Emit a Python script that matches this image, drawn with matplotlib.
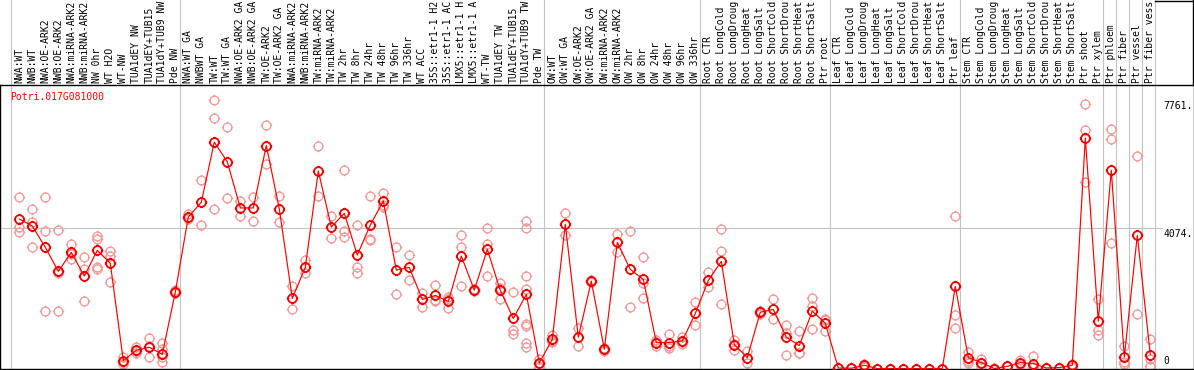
import matplotlib
matplotlib.use("Agg")
import numpy as np
import matplotlib.pyplot as plt
import matplotlib.transforms as mtransforms
from matplotlib.path import Path

gene = "Potri.017G081000"

labels = [
    "NWA:WT", "NWB:WT", "NWA:OE-ARK2", "NWB:OE-ARK2", "NWA:miRNA-ARK2",
    "NWB:miRNA-ARK2", "NW 0hr", "WT H2O", "WT-NW", "TUA1dEY NW",
    "TUA1dEY+TUB15", "TUA1dY+TUB9 NW", "Pde NW",
    "NWA:WT GA", "NWBWT GA", "TW:WT", "TW:WT GA", "NWA:OE-ARK2 GA",
    "NWB:OE-ARK2 GA", "TW:OE-ARK2", "TW:OE-ARK2 GA", "NWA:miRNA-ARK2",
    "NWB:miRNA-ARK2", "TW:miRNA-ARK2", "TW:miRNA-ARK2", "TW 2hr", "TW 8hr",
    "TW 24hr", "TW 48hr", "TW 96hr", "TW 336hr", "WT ACC", "35S::etr1-1 H2",
    "35S::etr1-1 AC", "LMX5::etr1-1 H", "LMX5::etr1-1 A", "WT-TW",
    "TUA1dEY TW", "TUA1dEY+TUB15", "TUA1dY+TUB9 TW", "Pde TW",
    "OW:WT", "OW:WT GA", "OW:OE-ARK2", "OW:OE-ARK2 GA", "OW:miRNA-ARK2",
    "OW:miRNA-ARK2", "OW 2hr", "OW 8hr", "OW 24hr", "OW 48hr", "OW 96hr",
    "OW 336hr",
    "Root CTR", "Root LongCold", "Root LongDroug", "Root LongHeat",
    "Root LongSalt", "Root ShortCold", "Root ShortDrou", "Root ShortHeat",
    "Root ShortSalt", "Ptr root",
    "Leaf CTR", "Leaf LongCold", "Leaf LongDroug", "Leaf LongHeat",
    "Leaf LongSalt", "Leaf ShortCold", "Leaf ShortDrou", "Leaf ShortHeat",
    "Leaf ShortSalt", "Ptr leaf",
    "Stem CTR", "Stem LongCold", "Stem LongDroug", "Stem LongHeat",
    "Stem LongSalt", "Stem ShortCold", "Stem ShortDrou", "Stem ShortHeat",
    "Stem ShortSalt", "Ptr shoot", "Ptr xylem",
    "Ptr phloem", "Ptr fiber", "Ptr vessel", "Ptr fiber vess",
]

means = [
    4326, 4123, 3506, 2811, 3361, 2675, 3419, 3043, 232, 530, 617, 414, 2211,
    4384, 4810, 6549, 5978, 4645, 4645, 6450, 4616, 2028, 2927, 5717, 4094,
    4491, 3283, 4152, 4848, 2848, 2927, 1999, 2115, 1941, 3254, 2269, 3448,
    2260, 1449, 2144, 162,
    849, 4173, 907, 2530, 559, 3651, 2869, 2579, 753, 753, 800, 1594,
    2550, 3101, 695, 319, 1631, 1710, 907, 666, 1660, 1313,
    17, 10, 96, 0, 0, 0, 0, 0, 0, 2376,
    319, 174, 0, 67, 174, 145, 17, 30, 96, 6665, 1371,
    5737, 336, 3854, 406,
]

replicates = [
    [4973, 4103, 3941], [4616, 4231, 3515], [4955, 3970, 1660],
    [3999, 1660, 2774], [3602, 3177, 3300], [3216, 2886, 1950],
    [3843, 3747, 2944, 2890], [3408, 3263, 2492], [336, 191, 145],
    [626, 461, 500], [878, 327, 640], [742, 580, 336, 191], [2270, 2180, 2190],
    [4471, 4355, 4320], [5448, 4144], [7761, 7244, 4616], [6983, 4926],
    [4848, 4422], [4973, 4268], [7050, 5911], [4984, 4239], [2385, 1718],
    [3138, 2753], [6442, 4984], [4413, 3767], [5746, 3987, 3796],
    [4144, 2944, 2762], [4984, 3747, 3725], [5080, 4732, 4665],
    [3506, 2153], [3274, 2550], [2190, 1785, 2020], [2414, 1959, 1980],
    [2075, 1739, 2010], [3863, 3506, 2385], [2310, 2240, 2260],
    [4057, 3602, 2675], [2463, 1999, 2320], [2202, 1110, 1014],
    [4268, 4057, 2675, 2289, 1304, 1227, 753, 626], [290, 150, 46],
    [965, 800, 780], [4491, 3863], [1177, 646], [2560, 2500], [600, 520],
    [3892, 3379], [3979, 1768], [3216, 2480, 2028], [837, 646, 770],
    [994, 608, 660], [916, 724, 760], [1912, 1275],
    [2791, 2365], [4028, 3390, 1855], [837, 530, 720], [510, 162],
    [1660, 1574, 1660], [1999, 1420], [1275, 1032, 406], [1081, 464, 450],
    [2028, 1796, 1159], [1437, 1090, 1410],
    [30, 10, 10], [20, 5, 5], [145, 60, 80], [0, 0], [0, 0], [0, 0], [0, 0],
    [0, 0], [0, 0], [4405, 1536, 1188],
    [493, 232, 162], [290, 67, 170], [20, 0], [67, 67], [261, 96, 170],
    [356, 46, 40], [17, 17], [30, 30], [145, 50], [7650, 6885, 5407],
    [1999, 1130, 965],
    [6925, 6636, 3622], [655, 191, 145], [6152, 1573], [869, 290, 67],
]

group_starts = [0, 13, 41, 53, 63, 73, 84, 85, 86, 87, 88]
ytick_values = [7761, 4074, 0]
ytick_labels = ["7761.", "4074.", "0"]

# ---------------------------------------------------------------- layout
W, H = 1194, 370
top_px, bot_px = 85, 369
fig = plt.figure(figsize=(W / 100, H / 100), dpi=100)
ax = fig.add_axes([0, (H - bot_px) / H, 1, (bot_px - top_px) / H])

step = 13.0
x0_px = 19.3
ax.set_xlim(-x0_px / step, (W - x0_px) / step)
zero_px, grid_px = 368.6, 227.7
scale = (zero_px - grid_px) / 4074.0
ax.set_ylim(-(bot_px - zero_px) / scale, (zero_px - top_px) / scale)
ax.set_xticks([])
ax.set_yticks([])
for s in ax.spines.values():
    s.set_color("black")
    s.set_linewidth(1.0)

mono = "DejaVu Sans Mono"
fs = 7.0
grey = "#c3c3c3"
head_frac = top_px / (bot_px - top_px)

# vertical separators (extend through the header)
for g in group_starts:
    ax.axvline(g - 0.64, ymin=0, ymax=1 + head_frac, color=grey, lw=0.8,
               clip_on=False, zorder=1)

# box around the top-right corner of the header
ax.plot([1155 / W, 1.0], [1 + head_frac - 0.002, 1 + head_frac - 0.002],
        color="black", lw=1.0, transform=ax.transAxes, clip_on=False)
ax.plot([1 - 0.6 / W, 1 - 0.6 / W], [1, 1 + head_frac], color="black", lw=1.0,
        transform=ax.transAxes, clip_on=False)

# horizontal grid line at middle tick
ax.axhline(ytick_values[1], xmin=0, xmax=1162 / W, color=grey, lw=0.8, zorder=1)

# custom marker: circle (polygon) with four small ticks
th = np.linspace(0, 2 * np.pi, 61)
cverts = np.column_stack([np.cos(th), np.sin(th)])
ccodes = [Path.MOVETO] + [Path.LINETO] * (len(th) - 1)
tk = 1.3
tverts = [(0, 1), (0, tk), (0, -1), (0, -tk), (1, 0), (tk, 0), (-1, 0), (-tk, 0)]
tcodes = [Path.MOVETO, Path.LINETO] * 4
mk = Path(np.vstack([cverts, tverts]), ccodes + tcodes)
msize = 8.2

rep_x, rep_y = [], []
for i, reps in enumerate(replicates):
    for v in reps:
        rep_x.append(i)
        rep_y.append(v)
ax.plot(rep_x, rep_y, linestyle="none", marker=mk, markersize=msize,
        markerfacecolor="none", markeredgecolor="#f09a9a", markeredgewidth=0.95,
        zorder=2)

xs = list(range(len(means)))
ax.plot(xs, means, color="#ff0000", lw=0.85, zorder=3)
ax.plot(xs, means, linestyle="none", marker=mk, markersize=msize,
        markerfacecolor="none", markeredgecolor="#ee0000", markeredgewidth=1.3,
        zorder=4)

# header labels
hdr = mtransforms.blended_transform_factory(ax.transData, ax.transAxes)
for i, lab in enumerate(labels):
    ax.text(i, 1 + 2.0 / (bot_px - top_px), lab, rotation=90, ha="center",
            va="bottom", fontsize=fs, family=mono, color="black",
            transform=hdr, clip_on=False)

# gene name
ax.text(10 / W, (bot_px - 96.7) / (bot_px - top_px), gene, color="#ff0000",
        fontsize=fs, family=mono, ha="left", va="center", transform=ax.transAxes)

# right-side value labels
rt = mtransforms.blended_transform_factory(ax.transAxes, ax.transData)
for v, t in zip(ytick_values, ytick_labels):
    if v == 0:
        off = mtransforms.offset_copy(rt, fig=fig, x=0, y=3, units="dots")
        ax.text(1163 / W, v, t, fontsize=fs, family=mono, ha="left",
                va="bottom", transform=off)
    else:
        off = mtransforms.offset_copy(rt, fig=fig, x=0, y=-1, units="dots")
        ax.text(1163 / W, v, t, fontsize=fs, family=mono, ha="left",
                va="top", transform=off)

fig.savefig("out.png", dpi=100)
